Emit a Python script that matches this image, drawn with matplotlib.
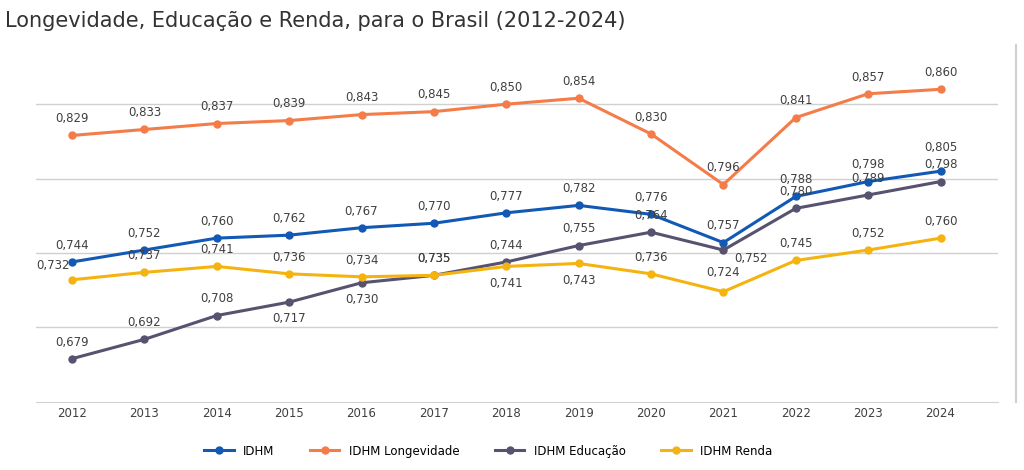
import matplotlib
matplotlib.use("Agg")
import matplotlib.pyplot as plt

years = [2012,2013,2014,2015,2016,2017,2018,2019,2020,2021,2022,2023,2024]
idhm = [0.744,0.752,0.760,0.762,0.767,0.770,0.777,0.782,0.776,0.757,0.788,0.798,0.805]
longev = [0.829,0.833,0.837,0.839,0.843,0.845,0.850,0.854,0.830,0.796,0.841,0.857,0.860]
educ = [0.679,0.692,0.708,0.717,0.730,0.735,0.744,0.755,0.764,0.752,0.780,0.789,0.798]
renda = [0.732,0.737,0.741,0.736,0.734,0.735,0.741,0.743,0.736,0.724,0.745,0.752,0.760]

up = (0, 12); dn = (0, -12)
series = [
    ("IDHM", idhm, "#1259b5", [up]*12 + [(0, 17)]),
    ("IDHM Longevidade", longev, "#f47c48", [up]*13),
    ("IDHM Educação", educ, "#56526f", [up,up,up,dn,dn,up,up,up,up,(20,-6),up,up,up]),
    ("IDHM Renda", renda, "#f5b30f", [(-14,10),up,up,up,up,up,dn,dn,up,(0,14),up,up,up]),
]

fig = plt.figure(figsize=(10.24,4.70), dpi=100)
ax = fig.add_axes([0.035, 0.145, 0.94, 0.76])
for name, vals, c, offs in series:
    ax.plot(years, vals, color=c, lw=2.2, marker="o", ms=5, label=name)
    for x, v, o in zip(years, vals, offs):
        ax.annotate(f"{v:.3f}".replace(".", ","), (x, v), xytext=o,
                    textcoords="offset points", ha="center", va="center",
                    fontsize=8.5, color="#404040")
ax.set_ylim(0.65, 0.89)
ax.set_xlim(2011.5, 2024.8)
ax.set_yticks([0.70,0.75,0.80,0.85])
ax.set_yticklabels([])
ax.tick_params(axis="y", length=0)
ax.tick_params(axis="x", length=0, labelsize=8.5, colors="#404040")
ax.set_xticks(years)
ax.grid(axis="y", color="#d0d0d0", lw=1)
for s in ["top","left","right"]:
    ax.spines[s].set_visible(False)
ax.spines["bottom"].set_color("#d0d0d0")
ax.axvline(2025.05, color="#d0d0d0", lw=1.5, clip_on=False)
ax.legend(loc="upper center", bbox_to_anchor=(0.47, -0.09), ncol=4, frameon=False,
          fontsize=8.5, handlelength=2.5, columnspacing=3)
fig.text(0.005, 0.955, "Longevidade, Educação e Renda, para o Brasil (2012-2024)",
         fontsize=15, color="#333333", va="center")
fig.savefig("out.png")
